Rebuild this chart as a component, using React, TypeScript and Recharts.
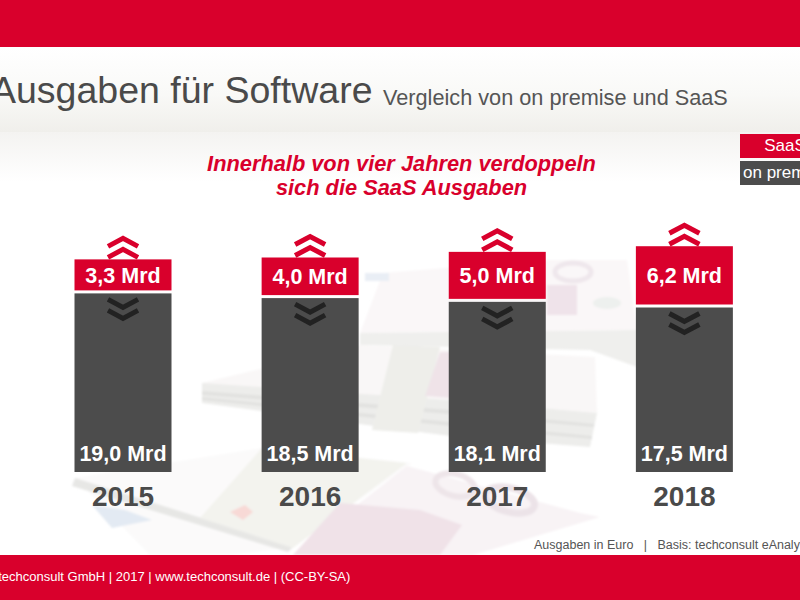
import { BarChart, Bar, XAxis, YAxis, LabelList } from 'recharts'

const years = ['2015', '2016', '2017', '2018']
const onPremise = [19.0, 18.5, 18.1, 17.5]
const saas = [3.3, 4.0, 5.0, 6.2]

const data = years.map((year, i) => ({ year, onPremise: onPremise[i], saas: saas[i] }))

const RED = '#d9002c'
const GRAY = '#4c4c4c'
const GAP = 3

const fmt = (v: number) => `${v.toFixed(1).replace('.', ',')} Mrd`

// two stacked chevrons, dir -1 points up and 1 points down
function Chevrons({ cx, y, dir, color }: { cx: number; y: number; dir: number; color: string }) {
  return (
    <g fill="none" stroke={color} strokeWidth={5}>
      {[0, 11].map(off => {
        const base = y + off
        return (
          <polyline
            key={off}
            points={`${cx - 15},${base + (dir < 0 ? 8 : 0)} ${cx},${base + (dir < 0 ? 0 : 8)} ${cx + 15},${base + (dir < 0 ? 8 : 0)}`}
          />
        )
      })}
    </g>
  )
}

function GrayBar(props: any) {
  const { x, y, width, height } = props
  return (
    <g>
      <rect x={x} y={y} width={width} height={height} fill={GRAY} />
      <Chevrons cx={x + width / 2} y={y + 6} dir={1} color="#222222" />
    </g>
  )
}

function RedBar(props: any) {
  const { x, y, width, height } = props
  return (
    <g>
      <rect x={x} y={y - GAP} width={width} height={height} fill={RED} />
      <Chevrons cx={x + width / 2} y={y - GAP - 21} dir={-1} color={RED} />
    </g>
  )
}

function GrayLabel(props: any) {
  const { x, width, y, height, value } = props
  return (
    <text x={x + width / 2} y={y + height - 11} textAnchor="middle" fill="#fff" fontSize={21.5} fontWeight="bold">
      {fmt(value)}
    </text>
  )
}

function RedLabel(props: any) {
  const { x, width, y, height, value } = props
  return (
    <text x={x + width / 2} y={y - GAP + height / 2 + 8} textAnchor="middle" fill="#fff" fontSize={21.5} fontWeight="bold">
      {fmt(value)}
    </text>
  )
}

// faint banknote pile behind the bars
function Backdrop() {
  return (
    <svg width={800} height={600} style={{ position: 'absolute', left: 0, top: 0 }}>
      <defs>
        <linearGradient id="head" x1="0" y1="0" x2="0" y2="1">
          <stop offset="0" stopColor="#ffffff" />
          <stop offset="0.55" stopColor="#f9f9f7" />
          <stop offset="1" stopColor="#f0efeb" />
        </linearGradient>
        <linearGradient id="sub" x1="0" y1="0" x2="0" y2="1">
          <stop offset="0" stopColor="#f4f3f1" />
          <stop offset="1" stopColor="#ffffff" />
        </linearGradient>
        <filter id="soft">
          <feGaussianBlur stdDeviation="1.2" />
        </filter>
      </defs>
      <rect x={0} y={48} width={800} height={84} fill="url(#head)" />
      <rect x={0} y={132} width={800} height={50} fill="url(#sub)" />
      <g filter="url(#soft)">
        {/* upper bundle */}
        <polygon points="383,273 547,260 627,260 637,330 360,333" fill="#faf7f8" />
        <polygon points="360,333 637,330 637,367 590,350 360,345" fill="#efefed" />
        <rect x={547} y={285} width={30} height={30} fill="#efe3ea" />
        <ellipse cx={573} cy={272} rx={18} ry={9} fill="none" stroke="#efe7ec" strokeWidth={5} />
        <ellipse cx={607} cy={303} rx={14} ry={6} fill="#edf0ee" />
        <rect x={365} y={273} width={24} height={8} fill="#e9eef5" />
        {/* middle pile */}
        <polygon points="202,383 360,345 595,357 597,413 450,400 202,385" fill="#f9f7f7" />
        <polygon points="202,383 450,400 597,413 590,447 450,436 202,403" fill="#ededeb" />
        <polygon points="202,391 450,410 594,424 594,427 450,414 202,395" fill="#e2e2e0" />
        <polygon points="202,397 450,422 592,436 592,439 450,426 202,400" fill="#e2e2e0" />
        <polygon points="393,345 440,347 418,433 372,430" fill="#eeeeea" />
        <polygon points="440,352 450,352 450,398 425,396" fill="#efe3e8" />
        {/* lower notes */}
        <polygon points="75,478 262,448 412,463 293,547 230,555 150,555" fill="#fbfafa" />
        <polygon points="75,478 293,547 288,552 72,486" fill="#e7e7e5" />
        <polygon points="262,448 407,463 293,548 200,518" fill="#f3f3ee" />
        <polygon points="407,466 580,513 600,517 473,555 293,555" fill="#f8f3f5" />
        <polygon points="340,503 420,510 462,525 440,555 293,555" fill="#f0e2e8" />
        <polygon points="92,505 125,510 152,520 112,528" fill="#e3eaf3" />
        <polygon points="230,512 245,505 253,512 243,520" fill="#f8d9d6" />
        <ellipse cx={455} cy={485} rx={20} ry={11} fill="none" stroke="#eee5e9" strokeWidth={6} transform="rotate(14 455 485)" />
        <ellipse cx={510} cy={500} rx={25} ry={12} fill="none" stroke="#ece3e8" strokeWidth={7} transform="rotate(14 510 500)" />
      </g>
    </svg>
  )
}

export default function App() {
  return (
    <div style={{ position: 'absolute', left: 0, top: 0, width: 800, height: 600, overflow: 'hidden', background: '#fff', fontFamily: '"Liberation Sans", Arial, sans-serif' }}>
      <Backdrop />
      <div style={{ position: 'absolute', left: 0, top: 0, width: 800, height: 47, background: RED }} />
      <div style={{ position: 'absolute', left: -9, top: 69, fontSize: 37.5, color: '#4a4a4a', whiteSpace: 'nowrap' }}>Ausgaben für Software</div>
      <div style={{ position: 'absolute', left: 383, top: 85, fontSize: 21.7, color: '#555', whiteSpace: 'nowrap' }}>Vergleich von on premise und SaaS</div>
      <div style={{ position: 'absolute', left: 0, top: 152, width: 803, textAlign: 'center', fontSize: 21.8, lineHeight: '24px', fontWeight: 'bold', fontStyle: 'italic', color: RED }}>
        Innerhalb von vier Jahren verdoppeln<br />sich die SaaS Ausgaben
      </div>
      <div style={{ position: 'absolute', left: 740, top: 134, width: 90, height: 24, background: RED, color: '#fff', fontSize: 17, lineHeight: '24px', textAlign: 'center' }}>SaaS</div>
      <div style={{ position: 'absolute', left: 740, top: 161, width: 90, height: 24, background: GRAY, color: '#fff', fontSize: 17, lineHeight: '24px', paddingLeft: 3, whiteSpace: 'nowrap' }}>on premise</div>

      <div style={{ position: 'absolute', left: 0, top: 0 }}>
        <BarChart width={800} height={600} data={data} margin={{ top: 237, right: 22, bottom: 0, left: 29.5 }} barCategoryGap={45}>
          <XAxis
            dataKey="year"
            axisLine={false}
            tickLine={false}
            height={128}
            interval={0}
            tick={{ fill: '#4a4a4a', fontSize: 28, fontWeight: 'bold' }}
            tickMargin={8}
          />
          <YAxis hide domain={[0, 25]} />
          <Bar dataKey="onPremise" stackId="a" shape={GrayBar} isAnimationActive={false}>
            <LabelList dataKey="onPremise" content={GrayLabel} />
          </Bar>
          <Bar dataKey="saas" stackId="a" shape={RedBar} isAnimationActive={false}>
            <LabelList dataKey="saas" content={RedLabel} />
          </Bar>
        </BarChart>
      </div>

      <div style={{ position: 'absolute', left: 534, top: 538, fontSize: 12.5, color: '#555', whiteSpace: 'pre' }}>Ausgaben in Euro   |   Basis: techconsult eAnalyzer</div>
      <div style={{ position: 'absolute', left: 0, top: 555, width: 800, height: 45, background: RED }} />
      <div style={{ position: 'absolute', left: -15, top: 569, fontSize: 13, color: '#fff', whiteSpace: 'nowrap' }}>© techconsult GmbH | 2017 | www.techconsult.de | (CC-BY-SA)</div>
    </div>
  )
}
